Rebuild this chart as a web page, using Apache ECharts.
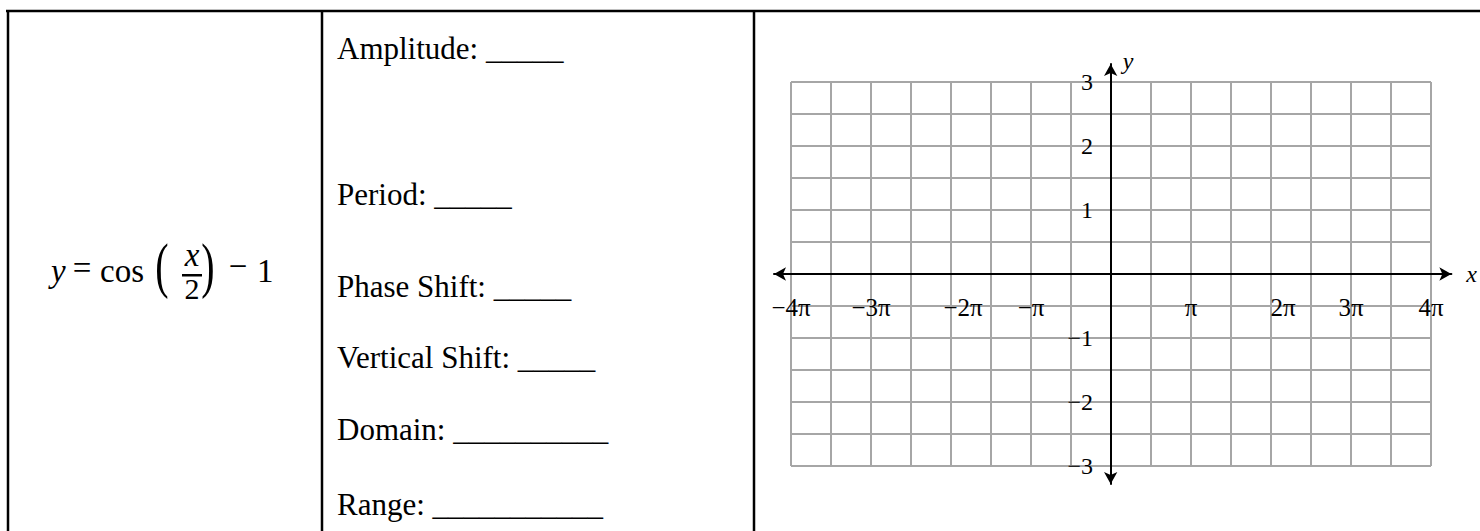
<!DOCTYPE html>
<html>
	<head>
		<meta charset="utf-8">
		<title>y = cos(x/2) - 1</title>
		<style type="text/css">
			body{
				margin: 0;
				background: #fff;
			}
			#main{
				width: 1480px;
				height: 531px;
			}
		</style>
	</head>
	<body>
		<div id="main"></div>
	</body>
<script src="https://cdn.jsdelivr.net/npm/echarts@6/dist/echarts.min.js" type="text/javascript" charset="utf-8"></script>
<script type="text/javascript">
	// x ticks are counted in multiples of pi
	var xTickValues = [-4, -3, -2, -1, 1, 2, 3, 4];
	var xTickLabels = ['−4π', '−3π', '−2π', '−π', 'π', '2π', '3π', '4π'];
	var yTickValues = [-3, -2, -1, 1, 2, 3];
	var yTickLabels = ['−3', '−2', '−1', '1', '2', '3'];
	var questions = ['Amplitude:', 'Period:', 'Phase Shift:', 'Vertical Shift:', 'Domain:', 'Range:'];
	var blanks = ['_____', '_____', '_____', '_____', '__________', '___________'];

	var serif = '"Liberation Serif", "Times New Roman", serif';
	var gridGray = '#a6a6a6';
	// baselines of the lines of text in the middle cell
	var questionBaselines = [59, 205, 297, 368, 440, 515];

	function labelFor(values, labels, v){
		var i = values.indexOf(v);
		return i < 0 ? '' : labels[i];
	}

	function txt(text, x, y, size, opts){
		opts = opts || {};
		return {
			type: 'text', x: x, y: y,
			scaleY: opts.scaleY || 1,
			style: {
				text: text,
				fontFamily: serif,
				fontSize: size,
				fontStyle: opts.italic ? 'italic' : 'normal',
				fill: '#000',
				align: opts.align || 'left',
				verticalAlign: 'middle'
			}
		};
	}

	var graphics = [];
	// table rules
	var rules = [[6, 11, 1480, 11], [8, 10, 8, 531], [322, 10, 322, 531], [754, 10, 754, 531]];
	rules.forEach(function(r){
		graphics.push({
			type: 'line',
			shape: {x1: r[0], y1: r[1], x2: r[2], y2: r[3]},
			style: {stroke: '#000', lineWidth: 2.5}
		});
	});
	questions.forEach(function(q, i){
		graphics.push(txt(q + ' ' + blanks[i], 337, questionBaselines[i] - 10.5, 31));
	});
	// the equation in the left cell
	graphics.push(txt('y', 51, 271, 33, {italic: true}));
	graphics.push(txt('=', 82, 268, 33, {align: 'center'}));
	graphics.push(txt('cos', 100, 271, 33));
	// tall thin brackets: a normal bracket stretched upward
	graphics.push(txt('(', 162, 265, 40, {align: 'center', scaleY: 1.55}));
	graphics.push(txt('x', 192, 255, 33, {italic: true, align: 'center'}));
	graphics.push({type: 'rect', shape: {x: 182, y: 274, width: 20, height: 2.5}, style: {fill: '#000'}});
	graphics.push(txt('2', 192, 288, 30, {align: 'center'}));
	graphics.push(txt(')', 208, 265, 40, {align: 'center', scaleY: 1.55}));
	graphics.push(txt('−', 238, 266, 33, {align: 'center'}));
	graphics.push(txt('1', 257, 271, 33));

	var chartDom = document.getElementById('main');
	var myChart = echarts.init(chartDom, null, {renderer: 'svg'});
	var option;

	option = {
		animation: false,
		graphic: {elements: graphics},
		grid: [
			// the gray squared paper
			{left: 791, top: 82, width: 640, height: 384},
			// wider box so the arrows reach past the paper
			{left: 774, top: 64, width: 678, height: 420}
		],
		xAxis: [
			{
				gridIndex: 0, type: 'value', min: -4, max: 4, interval: 0.5,
				position: 'bottom', offset: -192,
				axisLine: {show: false, onZero: false},
				axisTick: {show: false},
				splitLine: {show: true, lineStyle: {color: gridGray, width: 2}},
				axisLabel: {
					margin: 21,
					fontFamily: serif, fontSize: 25, color: '#000',
					formatter: function(v){
						var s = labelFor(xTickValues, xTickLabels, v);
						// the 2pi labels sit a little right of their gridline
						if (v === -2 || v === 2) return '{n|' + s + '}';
						return s;
					},
					rich: {n: {fontFamily: serif, fontSize: 25, color: '#000', padding: [0, 0, 0, 24]}}
				}
			},
			{
				gridIndex: 1, type: 'value', min: -4.2125, max: 4.2625, z: 5,
				axisLine: {
					show: true, onZero: true,
					lineStyle: {color: '#000', width: 2},
					symbol: ['arrow', 'arrow'], symbolSize: [10, 12]
				},
				axisTick: {show: false},
				axisLabel: {show: false},
				splitLine: {show: false},
				name: 'x', nameLocation: 'end', nameGap: 15,
				nameTextStyle: {fontFamily: serif, fontStyle: 'italic', fontSize: 24, color: '#000', padding: [0, 0, 13, 0]}
			}
		],
		yAxis: [
			{
				gridIndex: 0, type: 'value', min: -3, max: 3, interval: 0.5,
				position: 'left', offset: -320,
				axisLine: {show: false, onZero: false},
				axisTick: {show: false},
				splitLine: {show: true, lineStyle: {color: gridGray, width: 2}},
				axisLabel: {
					margin: 18, padding: [10, 0, 0, 0],
					fontFamily: serif, fontSize: 24, color: '#000',
					formatter: function(v){ return labelFor(yTickValues, yTickLabels, v); }
				}
			},
			{
				gridIndex: 1, type: 'value', min: -3.28125, max: 3.28125, z: 5,
				axisLine: {
					show: true, onZero: true,
					lineStyle: {color: '#000', width: 2},
					symbol: ['arrow', 'arrow'], symbolSize: [10, 12]
				},
				axisTick: {show: false},
				axisLabel: {show: false},
				splitLine: {show: false},
				name: 'y', nameLocation: 'end', nameGap: 3.5,
				nameTextStyle: {
					fontFamily: serif, fontStyle: 'italic', fontSize: 24, color: '#000',
					align: 'left', verticalAlign: 'middle', padding: [0, 0, 0, 12]
				}
			}
		],
		series: []
	};

	option && myChart.setOption(option);
</script>
</html>
